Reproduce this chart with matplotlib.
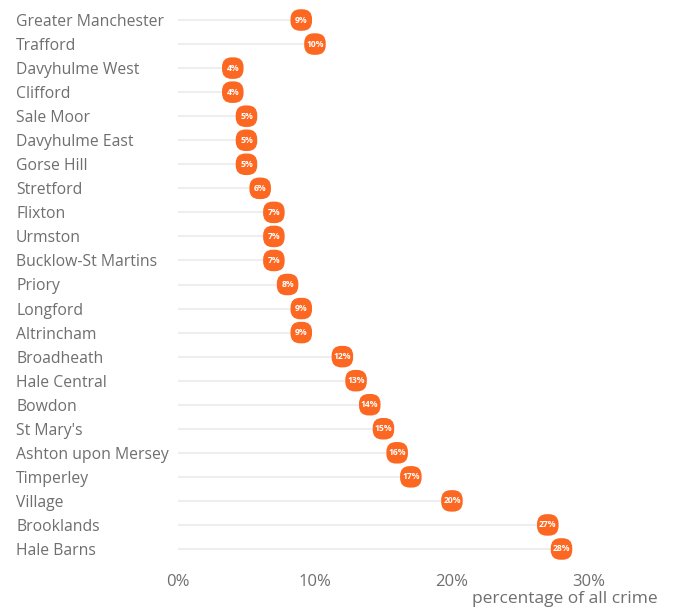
import matplotlib

matplotlib.use("Agg")

import matplotlib.pyplot as plt  # noqa: E402
from matplotlib.patches import FancyBboxPatch  # noqa: E402

areas = [
    "Greater Manchester", "Trafford", "Davyhulme West", "Clifford", "Sale Moor",
    "Davyhulme East", "Gorse Hill", "Stretford", "Flixton", "Urmston",
    "Bucklow-St Martins", "Priory", "Longford", "Altrincham", "Broadheath",
    "Hale Central", "Bowdon", "St Mary's", "Ashton upon Mersey", "Timperley",
    "Village", "Brooklands", "Hale Barns",
]
pct = [9, 10, 4, 4, 5, 5, 5, 6, 7, 7, 7, 8, 9, 9, 12, 13, 14, 15, 16, 17, 20, 27, 28]
xticks = [0, 10, 20, 30]

plt.rcParams["font.family"] = ["Open Sans", "DejaVu Sans"]
grey = "#6f6f6f"
orange = "#fc6721"

W, H = 674, 612
fig = plt.figure(figsize=(W / 100, H / 100), dpi=100)
# axes placed in pixel terms: x 0..33 spans 178..630, rows 20..549
ax = fig.add_axes([178 / W, 1 - 561 / H, (630 - 178) / W, (561 - 8) / H])
ax.set_xlim(0, 33)
ax.set_ylim(len(areas) - 0.5, -0.5)

ys = list(range(len(areas)))
ax.hlines(ys, 0, pct, color="#eeeeee", lw=1.5, zorder=1)

box = FancyBboxPatch((-0.5, -0.5), 1, 1, boxstyle="round,pad=0,rounding_size=0.45").get_path()
ax.scatter(pct, ys, marker=box, s=240, color=orange, edgecolors="none", zorder=2)
for y, v in zip(ys, pct):
    ax.text(v, y, f"{v}%", color="white", fontsize=6.2, fontweight="bold",
            ha="center", va="center", zorder=3)

ax.set_yticks(ys)
ax.set_yticklabels(areas, fontsize=11.3, color=grey, ha="left")
ax.tick_params(axis="y", length=0, pad=(178 - 16) * 0.72)
ax.set_xticks(xticks)
ax.set_xticklabels([f"{t}%" for t in xticks], fontsize=12, color=grey)
ax.tick_params(axis="x", length=0, pad=9)
for s in ax.spines.values():
    s.set_visible(False)

fig.text(658 / W, 1 - 599 / H, "percentage of all crime", fontsize=12.5,
         color=grey, ha="right", va="center")

fig.savefig("out.png", dpi=100)
